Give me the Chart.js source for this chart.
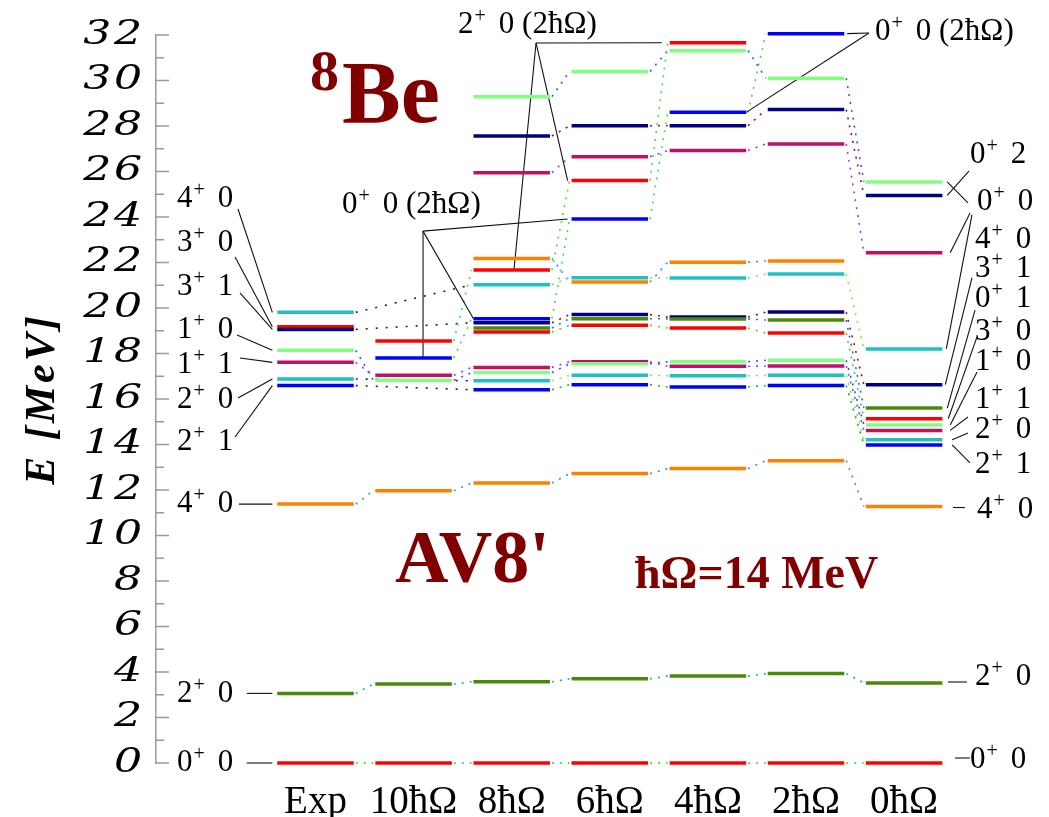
<!DOCTYPE html>
<html>
<head>
<meta charset="utf-8">
<title>8Be spectrum, AV8'</title>
<script src="https://cdn.jsdelivr.net/npm/chart.js@4.4.1/dist/chart.umd.min.js"></script>
<style>
  html, body { margin: 0; padding: 0; background: #fff; }
  canvas { display: block; }
</style>
</head>
<body>
<canvas id="spectrum" width="1049" height="817"></canvas>
<script>
// Model-space columns (Exp = experiment)
const columnLabels = ['Exp', '10ħΩ', '8ħΩ', '6ħΩ', '4ħΩ', '2ħΩ', '0ħΩ'];

// Excitation energies in MeV, tagged by state so levels can be followed across columns
const levelsExp = [['g0', 0], ['s2', 3.06], ['s4', 11.38], ['b', 16.59], ['c', 16.88], ['m', 17.61],
  ['l', 18.14], ['n', 19.06], ['r', 19.18], ['c2', 19.81]];
const levels10 = [['g0', 0], ['s2', 3.47], ['s4', 11.97], ['l', 16.82], ['m', 17.04], ['iB', 17.80], ['iR', 18.55]];
const levels8 = [['g0', 0], ['s2', 3.57], ['s4', 12.31], ['b', 16.41], ['c', 16.80], ['l', 17.16], ['m', 17.39],
  ['r', 18.95], ['o', 19.12], ['n', 19.35], ['iB', 19.53], ['c2', 21.02], ['iR', 21.67], ['or2', 22.18],
  ['m2', 25.95], ['n2', 27.56], ['l2', 29.29]];
const levels6 = [['g0', 0], ['s2', 3.70], ['s4', 12.72], ['b', 16.63], ['c', 17.04], ['l', 17.55], ['m', 17.64],
  ['r', 19.24], ['o', 19.53], ['n', 19.71], ['or2', 21.14], ['c2', 21.33], ['iB', 23.91], ['iR', 25.60],
  ['m2', 26.65], ['n2', 28.01], ['l2', 30.40]];
const levels4 = [['g0', 0], ['s2', 3.82], ['s4', 12.94], ['b', 16.53], ['c', 17.02], ['m', 17.44], ['l', 17.64],
  ['r', 19.12], ['o', 19.52], ['n', 19.60], ['c2', 21.32], ['or2', 22.01], ['m2', 26.92], ['n2', 28.01],
  ['iB', 28.60], ['l2', 31.31], ['iR', 31.66]];
const levels2 = [['g0', 0], ['s2', 3.93], ['s4', 13.29], ['b', 16.59], ['c', 17.04], ['m', 17.45], ['l', 17.70],
  ['r', 18.90], ['o', 19.47], ['n', 19.82], ['c2', 21.49], ['or2', 22.07], ['m2', 27.21], ['n2', 28.72],
  ['l2', 30.10], ['iB', 32.06]];
const levels0 = [['g0', 0], ['s2', 3.52], ['s4', 11.27], ['b', 13.98], ['c', 14.21], ['m', 14.62], ['l', 14.86],
  ['r', 15.13], ['o', 15.60], ['n', 16.63], ['c2', 18.20], ['m2', 22.43], ['n2', 24.95], ['l2', 25.54]];

// Experimental states joined straight to the 8ħΩ column
const bridgeStates = ['b', 'c', 'n', 'c2'];

// Level labels (J^π T)
const leftTags = ['4+ 0', '3+ 0', '3+ 1', '1+ 0', '1+ 1', '2+ 0', '2+ 1', '4+ 0', '2+ 0', '0+ 0'];
const leftTagE = [24.88, 22.95, 21.01, 19.12, 17.58, 16.04, 14.20, 11.47, 3.12, 0.09];
const leftTagState = ['c2', 'r', 'n', 'l', 'm', 'c', 'b', 's4', 's2', 'g0'];
const leftLeadX = [-0.79, -0.82, -0.77, -0.80, -0.77, -0.79, -0.82, -0.78, -0.70, -0.70];
const leftLeadE = [24.35, 22.24, 20.66, 18.81, 17.80, 16.04, 14.33, null, null, null];

const rightTags = ['0+ 2', '0+ 0', '4+ 0', '3+ 1', '0+ 1', '3+ 0', '1+ 0', '1+ 1', '2+ 0', '2+ 1', '4+ 0', '2+ 0', '0+ 0'];
const rightTagE = [26.81, 24.75, 23.08, 21.80, 20.48, 19.03, 17.71, 16.04, 14.73, 13.19, 11.21, 3.87, 0.22];
const rightTagX = [6.672, 6.743, 6.723, 6.723, 6.723, 6.723, 6.723, 6.723, 6.723, 6.723, 6.743, 6.723, 6.672];
// [state, gap from bar end, label-side x, label-side E]
const rightLeads = [['l2', 0.05, 6.651, 24.62], ['n2', 0.05, 6.661, 26.02], ['m2', 0.08, 6.672, 24.18],
  ['c2', 0.04, 6.692, 24.09], ['n', 0.03, 6.692, 21.32], ['o', 0.05, 6.723, 19.91], ['r', 0.06, 6.743, 18.73],
  ['l', 0.08, 6.743, 17.19], ['m', 0.08, 6.651, 15.21], ['c', 0.10, 6.651, 14.51], ['b', 0.10, 6.672, 13.19]];
const rightDashes = [[6.498, 6.620, 11.23], [6.447, 6.641, 3.56], [6.518, 6.672, 0.22]];

// Intruder (2ħΩ) state labels
const midTags = ['0+ 0 (2ħΩ)', '2+ 0 (2ħΩ)', '0+ 0 (2ħΩ)'];
const midTagPos = [[0.270, 24.62], [1.453, 32.53], [5.703, 32.22]];
const midCorners = [[1.096, 23.38], [2.248, 31.65], [5.642, 32.09]];

// Styling
const levelColors = {
  g0: '#ff0000', s2: '#4a8a0a', s4: '#ff8000', b: '#0000ff', c: '#20c0c0', m: '#c0106a', l: '#80ff80',
  n: '#000080', r: '#ff0000', o: '#4a8a0a', c2: '#20c0c0', or2: '#ff8000', iB: '#0000ff', iR: '#ff0000',
  m2: '#c0106a', n2: '#000080', l2: '#80ff80'
};
const linkColors = {
  g0: '#30d030', s2: '#3090ff', s4: '#3090ff', b: '#20b020', c: '#70f040', m: '#8040ff', l: '#3050ff',
  n: '#a01010', r: '#40d040', o: '#3060ff', c2: '#70f040', or2: '#3090ff', iB: '#40e040', iR: '#40e040',
  m2: '#8040ff', n2: '#a01010', l2: '#3050ff'
};
const MAROON = '#800000';
const HALF = 0.39;

const columns = [levelsExp, levels10, levels8, levels6, levels4, levels2, levels0];
const energy = (col, key) => { const hit = columns[col].find(p => p[0] === key); return hit ? hit[1] : null; };
const leftEnd = (col, key, gap = 0) => ({ x: col - HALF - gap, y: energy(col, key) });
const rightEnd = (col, key, gap = 0) => ({ x: col + HALF + gap, y: energy(col, key) });

const datasets = [];
function segment(a, b, style) {
  datasets.push(Object.assign({
    data: [a, b], showLine: true, pointRadius: 0, pointHoverRadius: 0,
    clip: false, fill: false, tension: 0, borderCapStyle: 'butt'
  }, style));
}

// level bars
columns.forEach((lv, i) => lv.forEach(([key, e]) => {
  segment({ x: i - HALF, y: e }, { x: i + HALF, y: e }, { borderColor: levelColors[key], borderWidth: 3.5, order: 0 });
}));

// dotted links between neighbouring columns
for (let i = 0; i < columns.length - 1; i++) {
  columns[i].forEach(([key]) => {
    if (energy(i + 1, key) !== null) {
      segment(rightEnd(i, key, 0.02), leftEnd(i + 1, key, 0.02),
        { borderColor: linkColors[key], borderWidth: 1.6, borderDash: [2, 6], order: 2 });
    }
  });
}
bridgeStates.forEach(key => {
  segment(rightEnd(0, key, 0.02), leftEnd(2, key, 0.02),
    { borderColor: '#222', borderWidth: 1.6, borderDash: [2, 8], order: 2 });
});

// label leaders
const lead = { borderColor: '#111', borderWidth: 1.1, order: 1 };
leftTagState.forEach((key, i) => {
  const start = { x: leftLeadX[i], y: leftLeadE[i] === null ? energy(0, key) : leftLeadE[i] };
  segment(start, leftEnd(0, key, 0.05), lead);
});
rightLeads.forEach(([key, gap, x, e]) => segment(rightEnd(6, key, gap), { x, y: e }, lead));
rightDashes.forEach(([x1, x2, e]) => segment({ x: x1, y: e }, { x: x2, y: e }, lead));

const c0 = { x: midCorners[0][0], y: midCorners[0][1] };
segment(c0, leftEnd(3, 'iB', 0.04), lead);
segment(c0, leftEnd(2, 'iB', 0.0), lead);
segment(c0, { x: midCorners[0][0], y: energy(1, 'iB') }, lead);
const c1 = { x: midCorners[1][0], y: midCorners[1][1] };
segment(c1, leftEnd(4, 'iR', 0.08), lead);
segment(c1, { x: 2.023, y: energy(2, 'iR') }, lead);
segment(c1, leftEnd(3, 'iR', 0.04), lead);
const c2 = { x: midCorners[2][0], y: midCorners[2][1] };
segment(c2, rightEnd(5, 'iB', 0.03), lead);
segment(c2, rightEnd(4, 'iB', 0.0), lead);

// J^π T label: spin, raised parity sign, then the rest
function drawTag(ctx, str, px, py, size) {
  const m = str.match(/^(\S)([+-])\s(.*)$/);
  const base = py + size * 0.33;
  let x = px;
  ctx.textBaseline = 'alphabetic';
  ctx.textAlign = 'left';
  ctx.font = size + 'px "Liberation Serif"';
  ctx.fillText(m[1], x, base);
  x += ctx.measureText(m[1]).width + 1;
  ctx.font = Math.round(size * 0.66) + 'px "Liberation Serif"';
  ctx.fillText(m[2], x, base - size * 0.36);
  x += ctx.measureText(m[2]).width + size * 0.42;
  ctx.font = size + 'px "Liberation Serif"';
  ctx.fillText(m[3], x, base);
}

const annotations = {
  id: 'annotations',
  afterDatasetsDraw(chart) {
    const { ctx } = chart;
    const X = v => chart.scales.x.getPixelForValue(v);
    const Y = v => chart.scales.y.getPixelForValue(v);
    ctx.save();
    ctx.fillStyle = '#000';
    leftTags.forEach((t, i) => drawTag(ctx, t, X(-1.412), Y(leftTagE[i]), 31));
    rightTags.forEach((t, i) => drawTag(ctx, t, X(rightTagX[i]), Y(rightTagE[i]), 31));
    midTags.forEach((t, i) => drawTag(ctx, t, X(midTagPos[i][0]), Y(midTagPos[i][1]), 31));

    ctx.fillStyle = MAROON;
    ctx.textBaseline = 'alphabetic';
    ctx.textAlign = 'left';
    ctx.font = 'bold 58px "Liberation Serif"';
    ctx.fillText('8', X(-0.056), Y(29.58));
    ctx.font = 'bold 88px "Liberation Serif"';
    ctx.fillText('Be', X(0.270), Y(28.18));
    ctx.font = 'bold 74px "Liberation Serif"';
    ctx.fillText("AV8'", X(0.810), Y(7.96));
    ctx.font = 'bold 46px "Liberation Serif"';
    ctx.fillText('ħΩ=14 MeV', X(3.257), Y(7.69));
    ctx.restore();
  }
};

// inward tick marks on the energy axis, longer at labelled values
const inwardTicks = {
  id: 'inwardTicks',
  beforeDatasetsDraw(chart) {
    const y = chart.scales.y, ctx = chart.ctx, x0 = chart.chartArea.left;
    ctx.save();
    ctx.strokeStyle = '#999';
    ctx.lineWidth = 1.5;
    y.ticks.forEach(t => {
      const py = y.getPixelForValue(t.value);
      const len = t.value % 2 === 0 ? 13 : 8;
      ctx.beginPath();
      ctx.moveTo(x0, py);
      ctx.lineTo(x0 + len, py);
      ctx.stroke();
    });
    ctx.restore();
  }
};

// wide lettering for the energy axis numbers and title
const wideAxisText = {
  id: 'wideAxisText',
  beforeDraw(chart) {
    const y = chart.scales.y;
    if (y._wide) return;
    const drawLabels = y.drawLabels.bind(y);
    const drawTitle = y.drawTitle.bind(y);
    y.drawLabels = function (area) {
      const c = this.ctx;
      const ax = this.right - this.options.ticks.padding;
      c.save();
      c.translate(ax, 0);
      c.scale(1.3, 1);
      c.translate(-ax, 0);
      c.letterSpacing = '2px';
      drawLabels(area);
      c.restore();
    };
    y.drawTitle = function () {
      const c = this.ctx;
      c.save();
      c.letterSpacing = '3px';
      drawTitle();
      c.restore();
    };
    y._wide = true;
  }
};

new Chart(document.getElementById('spectrum'), {
  type: 'scatter',
  data: { datasets },
  options: {
    responsive: false,
    animation: false,
    events: [],
    layout: { padding: { left: 0, right: 0, top: 35, bottom: 0 } },
    plugins: { legend: { display: false }, tooltip: { enabled: false } },
    scales: {
      x: {
        type: 'linear',
        min: -1.626,
        max: 7.477,
        afterBuildTicks: s => { s.ticks = columnLabels.map((_, i) => ({ value: i })); },
        afterFit: s => { s.height = 54; },
        grid: { display: false },
        border: { display: false },
        ticks: {
          callback: v => columnLabels[v] ?? '',
          font: { family: 'Liberation Serif', size: 39 },
          color: '#000',
          padding: 8,
          maxRotation: 0,
          autoSkip: false
        }
      },
      y: {
        min: 0,
        max: 32,
        afterFit: s => { s.width = 156; },
        grid: { display: false },
        border: { display: true, color: '#999', width: 1.5 },
        ticks: {
          stepSize: 1,
          autoSkip: false,
          callback: v => (v % 2 === 0 ? String(v) : ''),
          font: { family: 'DejaVu Serif', style: 'italic', size: 34 },
          color: '#000',
          padding: 1
        },
        title: {
          display: true,
          text: 'E [MeV]',
          font: { family: 'Liberation Serif', size: 42, weight: 'bold', style: 'italic' },
          color: '#000',
          padding: { top: 18, bottom: 0 }
        }
      }
    }
  },
  plugins: [wideAxisText, inwardTicks, annotations]
});
</script>
</body>
</html>
